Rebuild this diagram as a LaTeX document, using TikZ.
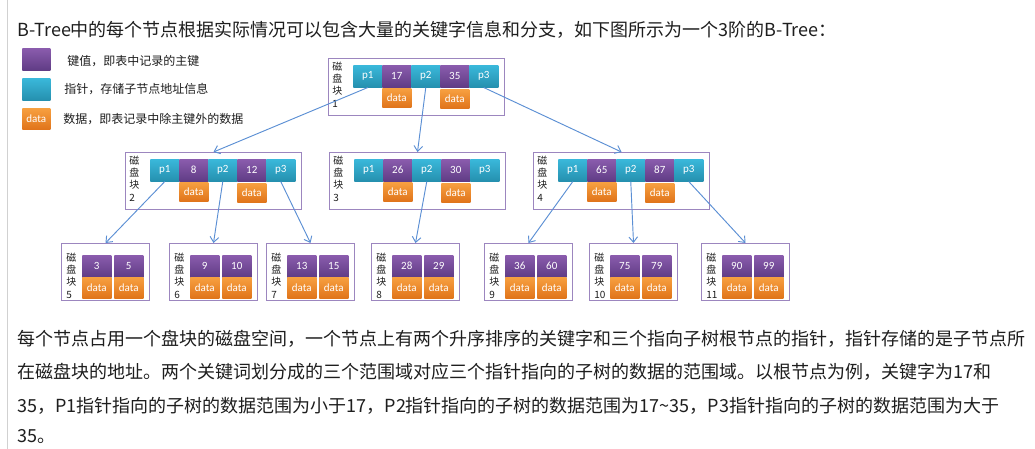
\documentclass[tikz,border=0pt]{standalone}
\usepackage{fontspec}
\setmainfont{Noto Sans CJK SC}
\newfontfamily\calfont{Carlito}
\usetikzlibrary{arrows.meta,shadows}
\definecolor{kT}{HTML}{8A5CAD}
\definecolor{kB}{HTML}{603C85}
\definecolor{pT}{HTML}{3AB8DA}
\definecolor{pB}{HTML}{2590AE}
\definecolor{dT}{HTML}{F7A040}
\definecolor{dB}{HTML}{E0741A}
\definecolor{boxc}{HTML}{9C86BF}
\definecolor{arrc}{HTML}{5B8FD4}
\definecolor{txt}{HTML}{1E1E1E}
\tikzset{
  cellbase/.style={anchor=north west,inner sep=0pt,minimum width=21.75pt,
    text=white,font=\calfont\fontsize{8.25}{9}\selectfont,
    drop shadow={opacity=0.2,shadow xshift=0.6pt,shadow yshift=-0.6pt}},
  keycell/.style={cellbase,minimum height=16.5pt,top color=kT,bottom color=kB},
  ptrcell/.style={cellbase,minimum height=16.5pt,top color=pT,bottom color=pB},
  datcell/.style={cellbase,minimum height=14.25pt,top color=dT,bottom color=dB},
  ldatcell/.style={cellbase,minimum height=15.75pt,top color=dT,bottom color=dB},
  blk/.style={draw=boxc,line width=0.75pt,anchor=north west,inner sep=0pt,minimum height=42.75pt},
  lbl/.style={anchor=north west,inner sep=0pt,align=left,text=txt,font=\fontsize{7.5}{9.1}\selectfont},
  arr/.style={draw=arrc,line width=0.7pt,-{Straight Barb[length=4pt,width=6.5pt]}},
  legtxt/.style={anchor=west,inner sep=0pt,text=txt,font=\fontsize{9}{10}\selectfont},
  para/.style={anchor=west,inner sep=0pt,text=txt,font=\fontsize{13.5}{15}\selectfont},
}
\newcommand{\inode}[6]{%
  \node[blk,minimum width=132pt] (#1) at (#2,#3) {};
  \node[lbl] (#1-l) at (#2+4,#3+4) {磁\\盘\\块\\#4};
  \node[ptrcell] (#1-p1) at (#2+25,#3+7) {p1};
  \node[keycell] (#1-k1) at (#2+54,#3+7) {#5};
  \node[ptrcell] (#1-p2) at (#2+83,#3+7) {p2};
  \node[keycell] (#1-k2) at (#2+112,#3+7) {#6};
  \node[ptrcell] (#1-p3) at (#2+141,#3+7) {p3};
  \node[datcell] (#1-d1) at (#2+54,#3+30) {data};
  \node[datcell] (#1-d2) at (#2+112,#3+31) {data};
}
\newcommand{\lnode}[6]{%
  \node[blk,minimum width=66pt] (#1) at (#2,#3) {};
  \node[lbl] (#1-l) at (#2+5,#3+10) {磁\\盘\\块\\#4};
  \node[keycell] (#1-k1) at (#2+21,#3+12) {#5};
  \node[keycell] (#1-k2) at (#2+53,#3+12) {#6};
  \node[ldatcell] (#1-d1) at (#2+21,#3+34) {data};
  \node[ldatcell] (#1-d2) at (#2+53,#3+34) {data};
}
\begin{document}
\begin{tikzpicture}[x=0.75pt,y=-0.75pt]
\useasboundingbox[fill=white] (0,0) rectangle (1035,449);
\draw[draw=black!18,line width=0.75pt] (7,0) -- (7,449);
% title
\node[para] (title) at (17,30) {B-Tree中的每个节点根据实际情况可以包含大量的关键字信息和分支，如下图所示为一个3阶的B-Tree：};
% legend
\node[keycell,minimum width=21pt,minimum height=16.5pt] (lg1) at (22,48) {};
\node[ptrcell,minimum width=21pt,minimum height=16.5pt] (lg2) at (22,78) {};
\node[datcell,minimum width=21pt,minimum height=16pt] (lg3) at (22,108) {data};
\node[legtxt] (lt1) at (67,61) {键值，即表中记录的主键};
\node[legtxt] (lt2) at (64,89) {指针，存储子节点地址信息};
\node[legtxt] (lt3) at (63,119) {数据，即表记录中除主键外的数据};
% tree
\inode{n1}{328}{58}{1}{17}{35}
\inode{n2}{125}{152}{2}{8}{12}
\inode{n3}{329}{152}{3}{26}{30}
\inode{n4}{533}{152}{4}{65}{87}
\lnode{n5}{61}{243}{5}{3}{5}
\lnode{n6}{169}{243}{6}{9}{10}
\lnode{n7}{266}{243}{7}{13}{15}
\lnode{n8}{371}{243}{8}{28}{29}
\lnode{n9}{484}{243}{9}{36}{60}
\lnode{n10}{589}{243}{10}{75}{79}
\lnode{n11}{701}{243}{11}{90}{99}
% connectors
\draw[arr] (n1-p1.south) -- (n2.north);
\draw[arr] (n1-p2.south) -- (n3.north);
\draw[arr] (n1-p3.south) -- (n4.north);
\draw[arr] (n2-p1.south) -- (n5.north);
\draw[arr] (n2-p2.south) -- (n6.north);
\draw[arr] (n2-p3.south) -- (n7.north);
\draw[arr] (n3-p2.south) -- (n8.north);
\draw[arr] (n4-p1.south) -- (n9.north);
\draw[arr] (n4-p2.south) -- (n10.north);
\draw[arr] (n4-p3.south) -- (n11.north);
% paragraph
\node[para] (t1) at (17,339) {每个节点占用一个盘块的磁盘空间，一个节点上有两个升序排序的关键字和三个指向子树根节点的指针，指针存储的是子节点所};
\node[para] (t2) at (17,372) {在磁盘块的地址。两个关键词划分成的三个范围域对应三个指针指向的子树的数据的范围域。以根节点为例，关键字为17和};
\node[para] (t3) at (17,406) {35，P1指针指向的子树的数据范围为小于17，P2指针指向的子树的数据范围为17\textasciitilde35，P3指针指向的子树的数据范围为大于};
\node[para] (t4) at (17,437) {35。};
\end{tikzpicture}
\end{document}
